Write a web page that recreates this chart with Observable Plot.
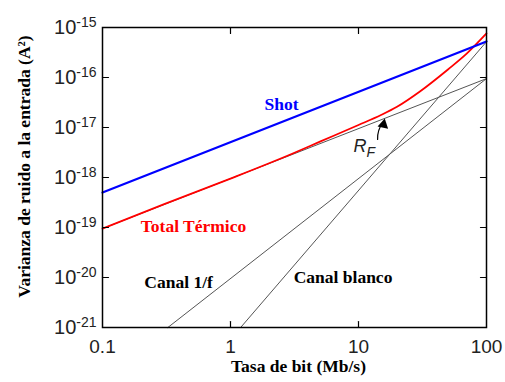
<!DOCTYPE html>
<html><head><meta charset="utf-8">
<script src="https://cdn.jsdelivr.net/npm/d3@7"></script>
<script src="https://cdn.jsdelivr.net/npm/@observablehq/plot@0.6"></script>
<style>body{margin:0;background:#fff}</style>
</head><body><div id="chart"></div>
<script>
// ---- data ----
const xTicks = [0.1, 1, 10, 100];
const xTickLabels = ["0.1", "1", "10", "100"];
const yTicks = [1e-21, 1e-20, 1e-19, 1e-18, 1e-17, 1e-16, 1e-15];
const yTickExponents = ["-21", "-20", "-19", "-18", "-17", "-16", "-15"];

const shotX = [0.1, 100];
const shotY = [5.0e-19, 5.25e-16];

const thermX = [0.1, 0.3, 1, 3, 5, 10, 15, 20, 30, 50, 70, 100];
const thermY = [9.5e-20, 2.9e-19, 9.5e-19, 2.95e-18, 5.2e-18, 1.12e-17, 1.78e-17, 2.6e-17, 5.2e-17, 1.45e-16, 3.0e-16, 7.6e-16];

const rfX = [0.1, 100];
const rfY = [9.5e-20, 9.5e-17];

const flickerX = [0.324, 100];
const flickerY = [1e-21, 9.5e-17];

const whiteX = [1.2, 100];
const whiteY = [1e-21, 5.2e-16];

const labelText = ["Shot", "Total Térmico", "Canal 1/f", "Canal blanco"];
const labelX = [2.5, 0.514, 0.393, 7.57];
const labelY = [2.9e-17, 1.05e-19, 7.9e-21, 1.0e-20];
const labelColor = ["#0000ff", "#ff0000", "#000000", "#000000"];

const rfLabelX = [9.14];
const rfLabelY = [4.2e-18];
const arrowFrom = [14.1, 5.75e-18];
const arrowTo = [15.5, 1.25e-17];
const arrowHead = [15.67, 1.15e-17];

const xTitle = "Tasa de bit (Mb/s)";
const yTitle = "Varianza de ruido a la entrada (A²)";

// ---- build tables ----
const series = (xs, ys) => xs.map((x, i) => ({x, y: ys[i]}));
const labels = labelText.map((t, i) => ({t, x: labelX[i], y: labelY[i], c: labelColor[i]}));
const tickShape = {draw(context, l) { context.moveTo(0, 0); context.lineTo(0, -l); }};
const innerX = xTicks.slice(1, -1);
const innerY = yTicks.slice(1, -1);
const serif = "'Liberation Serif', 'Times New Roman', serif";
const sans = "'Liberation Sans', Arial, sans-serif";

const chart = Plot.plot({
  width: 505, height: 382,
  marginLeft: 102, marginRight: 19, marginTop: 27, marginBottom: 55,
  x: {type: "log", domain: [0.1, 100]},
  y: {type: "log", domain: [1e-21, 1e-15]},
  style: {background: "white", fontFamily: sans, color: "black"},
  marks: [
    Plot.line(series(rfX, rfY), {x: "x", y: "y", stroke: "#555", strokeWidth: 1}),
    Plot.line(series(flickerX, flickerY), {x: "x", y: "y", stroke: "#555", strokeWidth: 1}),
    Plot.line(series(whiteX, whiteY), {x: "x", y: "y", stroke: "#555", strokeWidth: 1}),
    Plot.line(series(thermX, thermY), {x: "x", y: "y", stroke: "#ff0000", strokeWidth: 1.8, curve: "monotone-x"}),
    Plot.line(series(shotX, shotY), {x: "x", y: "y", stroke: "#0000ff", strokeWidth: 2.2}),
    Plot.frame({stroke: "black", strokeWidth: 1.5}),
    // inward ticks
    Plot.vector(innerX, {x: d => d, y: 1e-21, length: 6, rotate: 0, anchor: "start", shape: tickShape, stroke: "black", strokeWidth: 1.2}),
    Plot.vector(innerX, {x: d => d, y: 1e-15, length: 6, rotate: 180, anchor: "start", shape: tickShape, stroke: "black", strokeWidth: 1.2}),
    Plot.vector(innerY, {x: 0.1, y: d => d, length: 6, rotate: 90, anchor: "start", shape: tickShape, stroke: "black", strokeWidth: 1.2}),
    Plot.vector(innerY, {x: 100, y: d => d, length: 6, rotate: -90, anchor: "start", shape: tickShape, stroke: "black", strokeWidth: 1.2}),
    Plot.axisX(xTicks, {tickSize: 0, tickPadding: 12, fontSize: 19, label: null, fill: "#222",
      tickFormat: d => xTickLabels[xTicks.indexOf(d)]}),
    Plot.axisY(yTicks, {tickSize: 0, tickPadding: 6, fontSize: 20, label: null, fill: "#222",
      tickFormat: d => "10^" + yTickExponents[yTicks.indexOf(d)]}),
    Plot.text([xTitle], {frameAnchor: "bottom", dx: 4, dy: 44, fontFamily: serif, fontWeight: "bold", fontSize: 17.5, text: d => d}),
    Plot.text([yTitle], {frameAnchor: "left", textAnchor: "middle", rotate: -90, dx: -78, dy: -11, fontFamily: serif, fontWeight: "bold", fontSize: 17.5, text: d => d}),
    Plot.text(labels, {x: "x", y: "y", text: "t", fill: "c", fontFamily: serif, fontWeight: "bold", fontSize: 17.5}),
    Plot.text(rfLabelX, {x: d => d, y: (d, i) => rfLabelY[i], text: () => "R|F", textAnchor: "start", fontFamily: sans, fontStyle: "italic", fontSize: 18, fill: "#222"}),
    Plot.arrow([0], {x1: () => arrowFrom[0], y1: () => arrowFrom[1], x2: () => arrowTo[0], y2: () => arrowTo[1], bend: 20, headLength: 0, stroke: "black", strokeWidth: 1.2}),
    Plot.dot([0], {x: () => arrowHead[0], y: () => arrowHead[1], symbol: "triangle", r: 4, fill: "black", stroke: "none", rotate: 12})
  ]
});

// superscripts / subscripts as real text
const NS = "http://www.w3.org/2000/svg";
chart.querySelectorAll("text").forEach(t => {
  const s = t.textContent;
  if (s.includes("^")) {
    const [base, exp] = s.split("^");
    t.textContent = base;
    const ts = document.createElementNS(NS, "tspan");
    ts.setAttribute("dy", "-0.5em");
    ts.setAttribute("font-size", "14px");
    ts.textContent = exp;
    t.appendChild(ts);
  } else if (s.includes("|")) {
    const [base, sub] = s.split("|");
    t.textContent = base;
    const ts = document.createElementNS(NS, "tspan");
    ts.setAttribute("dy", "0.35em");
    ts.setAttribute("font-size", "14px");
    ts.textContent = sub;
    t.appendChild(ts);
  }
});
document.getElementById("chart").appendChild(chart);
</script>
</body></html>
